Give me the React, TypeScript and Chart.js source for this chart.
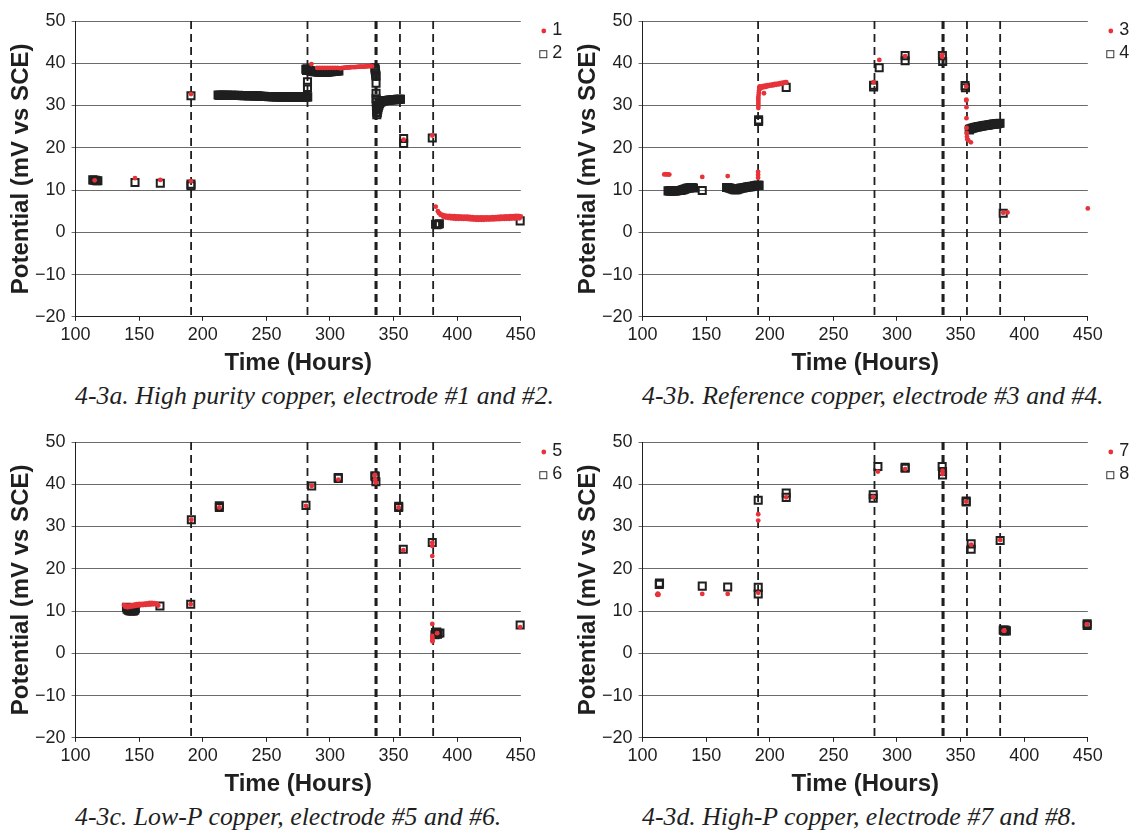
import React, { useEffect, useRef } from 'react';
import { Chart, registerables } from 'chart.js';

Chart.register(...registerables);

type Pt = [number, number];

// ---------- axis / annotation data ----------
const X_MIN = 100;
const X_MAX = 450;
const X_STEP = 50;
const Y_MIN = -20;
const Y_MAX = 50;
const Y_STEP = 10;
const X_TITLE = 'Time (Hours)';
const Y_TITLE = 'Potential (mV vs SCE)';
const EVENT_HOURS = [190.8, 282.3, 335.7, 336.7, 355.0, 381.1];

// ---------- 4-3a : electrodes 1 & 2 ----------
const electrode1: Pt[] = [
  [115.0, 12.3], [146.7, 12.8], [166.6, 12.4], [190.7, 12.1], [190.7, 32.7],
  [285.4, 39.8],
  [290, 38.9], [292, 38.9], [294, 38.9], [296, 38.9], [298, 38.9], [300, 38.9], [302, 38.9], [304, 38.9], [306, 38.9],
  [308, 38.8], [309, 38.85], [310, 38.9], [311, 38.9], [312, 38.95], [313, 39.0], [314, 39.0], [315, 39.0], [316, 39.05],
  [317, 39.1], [318, 39.1], [319, 39.1], [320, 39.1], [321, 39.15], [322, 39.15], [323, 39.2], [324, 39.2], [325, 39.2],
  [326, 39.2], [327, 39.2], [328, 39.25], [329, 39.25], [330, 39.3], [331, 39.3], [332, 39.3], [333, 39.3],
  [357.9, 21.9], [380.4, 22.9], [383.1, 6.05],
  [384.8, 5.0], [385.5, 4.6], [386, 4.5], [387, 4.1], [388, 4.2], [389, 3.7], [390, 4.0], [391, 3.5], [392, 3.9],
  [393, 3.4], [394, 3.85], [395, 3.3], [396, 3.8], [397, 3.25], [398, 3.8], [399, 3.2], [400, 3.75], [401, 3.2],
  [402, 3.75], [403, 3.2], [404, 3.7], [405, 3.15], [406, 3.7], [407, 3.15], [408, 3.7], [409, 3.1], [410, 3.65],
  [411, 3.05], [412, 3.6], [413, 3.0], [414, 3.55], [415, 2.95], [416, 3.5], [417, 2.95], [418, 3.5], [419, 2.95],
  [420, 3.5], [421, 2.95], [422, 3.5], [423, 3.0], [424, 3.55], [425, 3.0], [426, 3.55], [427, 3.05], [428, 3.6],
  [429, 3.05], [430, 3.6], [431, 3.1], [432, 3.65], [433, 3.1], [434, 3.7], [435, 3.15], [436, 3.7], [437, 3.15],
  [438, 3.75], [439, 3.2], [440, 3.75], [441, 3.2], [442, 3.8], [443, 3.25], [444, 3.8], [445, 3.25], [446, 3.85],
  [447, 3.3], [448, 3.85], [449, 3.3], [450, 3.75],
];

const electrode2: Pt[] = [
  [113.5, 12.4], [114.5, 12.3], [115.5, 12.3], [116.5, 12.2], [117.5, 12.2],
  [146.7, 11.8], [166.6, 11.6], [190.7, 11.0], [190.7, 11.4], [190.7, 32.3],
  [212, 32.5], [213, 32.4], [214, 32.45], [215, 32.4], [216, 32.4], [217, 32.45], [218, 32.4], [219, 32.4],
  [220, 32.4], [221, 32.35], [222, 32.4], [223, 32.4], [224, 32.35], [225, 32.4], [226, 32.35], [227, 32.35],
  [228, 32.4], [229, 32.35], [230, 32.35], [231, 32.3], [232, 32.35], [233, 32.3], [234, 32.35], [235, 32.3],
  [236, 32.3], [237, 32.3], [238, 32.3], [239, 32.3], [240, 32.3], [241, 32.25], [242, 32.3], [243, 32.25],
  [244, 32.25], [245, 32.2], [246, 32.2], [247, 32.15], [248, 32.2], [249, 32.15], [250, 32.15], [251, 32.15],
  [252, 32.1], [253, 32.15], [254, 32.1], [255, 32.1], [256, 32.1], [257, 32.1], [258, 32.05], [259, 32.1],
  [260, 32.05], [261, 32.1], [262, 32.05], [263, 32.05], [264, 32.1], [265, 32.05], [266, 32.05], [267, 32.0],
  [268, 32.05], [269, 32.0], [270, 32.05], [271, 32.0], [272, 32.0], [273, 32.05], [274, 32.0], [275, 32.0],
  [276, 32.0], [277, 32.05], [278, 32.0], [279, 32.0], [280, 32.05], [281, 32.0], [282, 32.05], [282.5, 32.05],
  [282.3, 35.6], [282.3, 34.3],
  [281, 38.6], [281.5, 38.3], [282, 38.7], [283, 38.5], [284, 38.3], [285, 38.2], [286, 38.1], [287, 38.05],
  [288, 38.0], [289, 38.0], [290, 37.95], [291, 37.95], [292, 37.9], [293, 37.9], [294, 37.9], [295, 37.9],
  [296, 37.9], [297, 37.9], [298, 37.95], [299, 37.95], [300, 38.0], [301, 38.0], [302, 38.05], [303, 38.1],
  [304, 38.1], [305, 38.15], [306, 38.2], [307, 38.2],
  [335.3, 38.9], [335.5, 38.5], [335.7, 38.1], [335.8, 37.7], [336.0, 37.3], [336.2, 37.0],
  [336.2, 35.25], [336.2, 32.9],
  [336.2, 31.6], [336.4, 30.8], [336.5, 30.0], [336.6, 29.2], [336.7, 28.5], [336.8, 27.8], [337.2, 28.3],
  [337.6, 29.0], [338, 29.6], [338.5, 30.1], [339, 30.5], [340, 30.8], [341, 31.0], [342, 31.1], [343, 31.15],
  [344, 31.2], [345, 31.2], [346, 31.25], [347, 31.3], [348, 31.3], [349, 31.35], [350, 31.35], [351, 31.4],
  [352, 31.4], [353, 31.45], [354, 31.45], [355, 31.5], [355.4, 31.5],
  [357.9, 22.2], [357.9, 21.0], [380.4, 22.3],
  [383, 1.9], [384, 1.8], [385, 1.9], [386, 2.0], [449.5, 2.7],
];

// ---------- 4-3b : electrodes 3 & 4 ----------
const electrode3: Pt[] = [
  [117, 13.7], [118, 13.75], [119, 13.7], [120, 13.7], [121, 13.65],
  [146.9, 13.1], [166.9, 13.3],
  [190.8, 14.3], [190.8, 13.6], [190.8, 12.9],
  [191, 29.4], [191, 29.9], [191, 30.4], [191, 30.9], [191, 31.4], [191, 31.9],
  [191.2, 32.5], [191.4, 33.1], [191.6, 33.6], [191.8, 34.0],
  [192, 34.5], [193, 34.1], [194, 34.6], [195, 34.3], [195.4, 32.9], [196, 34.7], [197, 34.4], [198, 34.8],
  [199, 34.6], [200, 34.9], [201, 34.7], [202, 35.0], [203, 34.8], [204, 35.1], [205, 34.9], [206, 35.2],
  [207, 35.0], [208, 35.3], [209, 35.1], [210, 35.4], [211, 35.3], [212, 35.5], [213, 35.5],
  [281.6, 35.5], [286.1, 40.8], [306.4, 41.7], [335.6, 42.0], [335.6, 41.5],
  [354.4, 34.5], [354.5, 31.4], [354.5, 31.2], [354.6, 29.6], [354.6, 27.0], [354.7, 24.7], [354.8, 23.5],
  [355, 22.6], [355.3, 22.0], [356, 21.8], [358.1, 21.3],
  [383.5, 4.6], [386.9, 4.7], [450, 5.65],
];

const electrode4: Pt[] = [
  [120, 9.8], [121, 9.8], [122, 9.8], [123, 9.8], [124, 9.8], [125, 9.8], [126, 9.8], [127, 9.85], [128, 9.9],
  [129, 9.9], [130, 9.9], [131, 10.0], [132, 10.1], [133, 10.2], [134, 10.3], [135, 10.4], [136, 10.5],
  [137, 10.5], [138, 10.6], [139, 10.6], [140, 10.5],
  [146.9, 9.9],
  [166, 10.6], [167, 10.6], [168, 10.5], [169, 10.4], [170, 10.3], [171, 10.2], [172, 10.1], [173, 10.1],
  [174, 10.1], [175, 10.2], [176, 10.3], [177, 10.4], [178, 10.5], [179, 10.5], [180, 10.6], [181, 10.6],
  [182, 10.7], [183, 10.7], [184, 10.8], [185, 10.8], [186, 10.9], [187, 10.9], [188, 11.0], [189, 11.0],
  [190, 11.1], [191, 11.1], [191.6, 11.1],
  [191.2, 26.2], [191.2, 26.6], [212.9, 34.3], [281.6, 34.8], [281.6, 34.4], [286, 38.95],
  [306.4, 41.8], [306.4, 40.6], [335.7, 41.8], [335.9, 40.4], [353.5, 34.7], [353.8, 34.2],
  [356.8, 24.2], [357, 24.4], [358, 24.5], [359, 24.6], [360, 24.7], [361, 24.8], [362, 24.85], [363, 24.9],
  [364, 25.0], [365, 25.05], [366, 25.1], [367, 25.15], [368, 25.2], [369, 25.25], [370, 25.3], [371, 25.35],
  [372, 25.4], [373, 25.45], [374, 25.5], [375, 25.55], [376, 25.6], [377, 25.6], [378, 25.7], [379, 25.7],
  [380, 25.75], [381, 25.8],
  [383.5, 4.5],
];

// ---------- 4-3c : electrodes 5 & 6 ----------
const electrode5: Pt[] = [
  [138, 11.4], [139, 11.0], [140, 11.3], [141, 10.9], [142, 11.3], [143, 11.0], [144, 11.4], [145, 11.1],
  [146, 11.5], [147, 11.2], [148, 11.6], [149, 11.3], [150, 11.7], [151, 11.35], [152, 11.7], [153, 11.4],
  [154, 11.75], [155, 11.45], [156, 11.8], [157, 11.5], [158, 11.9], [159, 11.55], [160, 11.9], [161, 11.6],
  [162, 11.85], [163, 11.6], [164, 11.7], [165, 11.3],
  [190.5, 11.6], [191, 31.6], [213, 34.5], [281.1, 34.9], [285.6, 39.6], [306.5, 41.1],
  [335.3, 42.2], [335.5, 41.1], [336.1, 40.4], [354, 34.5], [357.6, 24.4],
  [380.4, 26.2], [380.4, 25.4], [380.4, 23.0], [380.4, 6.95], [380.4, 4.1], [380.5, 3.6], [380.5, 3.1],
  [380.6, 2.8], [384.3, 4.75], [449.5, 6.2],
];

const electrode6: Pt[] = [
  [140, 10.9], [140.5, 10.4], [141, 10.8], [141.5, 10.2], [142, 10.6], [142.5, 10.1], [143, 10.5],
  [143.5, 10.0], [144, 10.4], [144.5, 10.0], [145, 10.3], [145.5, 10.0], [146, 10.4], [146.5, 10.2], [147, 10.6],
  [166.3, 11.2], [190.5, 11.6], [191, 31.6], [213, 34.5], [213, 34.9], [281.1, 35.0], [285.6, 39.6],
  [306.5, 41.4], [306.5, 41.6], [335.3, 42.0], [335.5, 41.8], [336.1, 40.6], [354, 34.5], [354, 34.8],
  [357.6, 24.6], [380.4, 26.2],
  [382.5, 4.4], [383, 4.9], [383.5, 4.6], [384, 5.0], [384.5, 4.5], [385, 4.7], [386.4, 4.8],
  [449.5, 6.7],
];

// ---------- 4-3d : electrodes 7 & 8 ----------
const electrode7: Pt[] = [
  [111.5, 13.9], [112, 14.1], [112.5, 13.9], [112, 13.8], [146.9, 14.05], [166.9, 14.05],
  [190.9, 14.3], [190.9, 32.9], [190.9, 31.4], [212.9, 36.9], [281.3, 37.0], [285, 43.0], [306.4, 43.6],
  [335.8, 43.2], [335.8, 42.4], [354.4, 35.9], [358.3, 25.7], [381.1, 26.8], [383.8, 5.35], [384.5, 5.35],
  [449.5, 6.9],
];

const electrode8: Pt[] = [
  [113.1, 16.3], [113.3, 16.6], [146.9, 15.9], [166.9, 15.7], [190.9, 15.6], [190.9, 14.05], [190.9, 36.2],
  [212.9, 37.9], [212.9, 36.9], [281.3, 37.5], [281.3, 36.7], [285, 44.2], [306.4, 44.0], [306.4, 43.8],
  [335.5, 44.2], [335.8, 43.0], [335.8, 42.2], [354.4, 36.0], [354.4, 35.8], [358.3, 25.9], [358.3, 24.6],
  [381.1, 26.7], [383.5, 5.5], [384, 5.4], [384.5, 5.3], [385, 5.5], [386, 5.3], [449.5, 6.6], [449.5, 7.0],
];

const PANELS = [
  { s1: electrode1, s2: electrode2, l1: '1', l2: '2', caption: '4-3a. High purity copper, electrode #1 and #2.', left: 0, top: 0 },
  { s1: electrode3, s2: electrode4, l1: '3', l2: '4', caption: '4-3b. Reference copper, electrode #3 and #4.', left: 567, top: 0 },
  { s1: electrode5, s2: electrode6, l1: '5', l2: '6', caption: '4-3c. Low-P copper, electrode #5 and #6.', left: 0, top: 421 },
  { s1: electrode7, s2: electrode8, l1: '7', l2: '8', caption: '4-3d. High-P copper, electrode #7 and #8.', left: 567, top: 421 },
];

// ---------- styling ----------
const RED = '#e6333a';
const INK = '#1f1f1f';
const GRID = '#6b6b6b';
const SANS = '"Liberation Sans", Arial, Helvetica, sans-serif';
const SERIF = '"Liberation Serif", "Times New Roman", serif';
const CANVAS_W = 567;
const CANVAS_H = 380;
const PLOT_LEFT = 75.6;
const PLOT_RIGHT = 520.8;
const PLOT_TOP = 21.0;
const PLOT_BOTTOM = 316.8;

const eventLinesPlugin = {
  id: 'eventLines',
  beforeDatasetsDraw(chart: any) {
    const { ctx, chartArea, scales } = chart;
    ctx.save();
    ctx.strokeStyle = INK;
    ctx.lineWidth = 1.8;
    ctx.setLineDash([8, 5]);
    for (const h of EVENT_HOURS) {
      const x = scales.x.getPixelForValue(h);
      ctx.beginPath();
      ctx.moveTo(x, chartArea.top);
      ctx.lineTo(x, chartArea.bottom);
      ctx.stroke();
    }
    ctx.restore();
  },
};

const sideLegendPlugin = {
  id: 'sideLegend',
  afterDraw(chart: any) {
    const { ctx, chartArea } = chart;
    const mx = chartArea.right + 22;
    const tx = chartArea.right + 31.5;
    ctx.save();
    ctx.font = `18px ${SANS}`;
    ctx.textBaseline = 'middle';
    ctx.textAlign = 'left';
    chart.data.datasets.forEach((ds: any, i: number) => {
      const y = chartArea.top + 10 + i * 22.7;
      if (i === 0) {
        ctx.fillStyle = RED;
        ctx.beginPath();
        ctx.arc(mx + 1, y, 2.4, 0, Math.PI * 2);
        ctx.fill();
      } else {
        ctx.strokeStyle = '#333';
        ctx.lineWidth = 1;
        ctx.strokeRect(mx - 3, y - 3, 7, 7);
      }
      ctx.fillStyle = INK;
      ctx.fillText(ds.label, tx, y - 1);
    });
    ctx.restore();
  },
};

function Panel(props: { s1: Pt[]; s2: Pt[]; l1: string; l2: string; caption: string; left: number; top: number }) {
  const ref = useRef<HTMLCanvasElement | null>(null);
  useEffect(() => {
    if (!ref.current) return;
    const chart = new Chart(ref.current, {
      type: 'scatter',
      data: {
        datasets: [
          {
            label: props.l1,
            data: props.s1.map(([x, y]) => ({ x, y })),
            pointStyle: 'circle',
            pointRadius: 2.4,
            pointBorderWidth: 0,
            pointBackgroundColor: RED,
            backgroundColor: RED,
            borderColor: RED,
            clip: false,
          } as any,
          {
            label: props.l2,
            data: props.s2.map(([x, y]) => ({ x, y })),
            pointStyle: 'rect',
            pointRadius: 5,
            pointBorderWidth: 2,
            pointBorderColor: INK,
            pointBackgroundColor: 'rgba(0,0,0,0)',
            backgroundColor: 'rgba(0,0,0,0)',
            borderColor: INK,
            clip: false,
          } as any,
        ],
      },
      options: {
        responsive: false,
        animation: false,
        events: [],
        layout: { padding: { left: 0, top: PLOT_TOP, right: CANVAS_W - PLOT_RIGHT, bottom: 0 } },
        plugins: { legend: { display: false }, tooltip: { enabled: false } },
        scales: {
          x: {
            type: 'linear',
            min: X_MIN,
            max: X_MAX,
            afterFit: (s: any) => { s.height = CANVAS_H - PLOT_BOTTOM; },
            ticks: { stepSize: X_STEP, autoSkip: false, maxRotation: 0, padding: 3, color: INK, font: { family: SANS, size: 18 } },
            grid: { drawOnChartArea: false, drawTicks: true, tickLength: 4, color: INK },
            border: { color: INK, width: 1 },
            title: { display: true, text: X_TITLE, color: INK, font: { family: SANS, size: 24, weight: 'bold' }, padding: { top: 0, bottom: 2 } },
          },
          y: {
            type: 'linear',
            min: Y_MIN,
            max: Y_MAX,
            afterFit: (s: any) => { s.width = PLOT_LEFT; },
            ticks: {
              stepSize: Y_STEP,
              padding: 6,
              color: INK,
              font: { family: SANS, size: 18 },
              callback: (v: any) => (Number(v) < 0 ? '\u2212' + Math.abs(Number(v)) : String(v)),
            },
            grid: { color: GRID, lineWidth: 1, tickLength: 4 },
            border: { color: INK, width: 1 },
            title: { display: true, text: Y_TITLE, color: INK, font: { family: SANS, size: 24, weight: 'bold' }, padding: { top: 7, bottom: 0 } },
          },
        },
      } as any,
      plugins: [eventLinesPlugin, sideLegendPlugin],
    });
    return () => chart.destroy();
  }, []);

  return (
    <div style={{ position: 'absolute', left: props.left, top: props.top, width: CANVAS_W, height: 415 }}>
      <canvas ref={ref} width={CANVAS_W} height={CANVAS_H} style={{ position: 'absolute', left: 0, top: 0, width: CANVAS_W, height: CANVAS_H }} />
      <div
        style={{
          position: 'absolute',
          left: 75,
          top: 381,
          fontFamily: SERIF,
          fontStyle: 'italic',
          fontSize: '25.8px',
          lineHeight: '30px',
          color: INK,
          whiteSpace: 'nowrap',
        }}
      >
        {props.caption}
      </div>
    </div>
  );
}

export default function App() {
  return (
    <div style={{ position: 'absolute', left: 0, top: 0, width: 1135, height: 831, background: '#ffffff', overflow: 'hidden' }}>
      {PANELS.map((p, i) => (
        <Panel key={i} {...p} />
      ))}
    </div>
  );
}
